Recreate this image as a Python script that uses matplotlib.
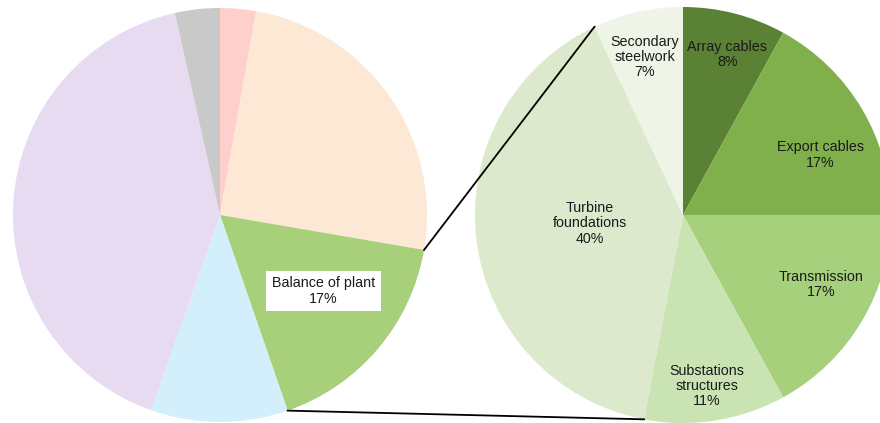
import numpy as np
import matplotlib.pyplot as plt

plt.rcParams['font.family'] = ['Liberation Sans', 'DejaVu Sans']

# overall cost split (left pie), clockwise from 12 o'clock
cost_shares = [2.8, 24.9, 17, 10.7, 41.1, 3.5]
cost_colors = ['#ffd0cb', '#fde8d6', '#a8d07a', '#d4effc', '#e7dbf2', '#c9c9c9']
bop_index = 2

# breakdown of balance of plant (right pie)
bop_labels = ['Array cables', 'Export cables', 'Transmission',
              'Substations\nstructures', 'Turbine\nfoundations', 'Secondary\nsteelwork']
bop_shares = [8, 17, 17, 11, 40, 7]
bop_colors = ['#5b8135', '#80b04c', '#a6d07b', '#c9e3b3', '#dde9cd', '#eef5e6']

# label placement: (radius fraction, angle tweak in degrees)
label_pos = [(0.80, -1), (0.72, -7), (0.745, 4), (0.83, -1), (0.45, -2), (0.78, 1)]

fig = plt.figure(figsize=(8.8, 4.23), dpi=100)
ax = fig.add_axes([0, 0, 1, 1])

c1, r1 = (220, 208), 207
c2, r2 = (683, 208), 208

w1, _ = ax.pie(cost_shares, colors=cost_colors, startangle=90, counterclock=False,
               center=c1, radius=r1, wedgeprops=dict(linewidth=0))
w2, _ = ax.pie(bop_shares, colors=bop_colors, startangle=90, counterclock=False,
               center=c2, radius=r2, wedgeprops=dict(linewidth=0))

def edge_pt(c, r, ang):
    a = np.deg2rad(ang)
    return c[0] + r * np.cos(a), c[1] + r * np.sin(a)

# labels inside right pie
for w, lab, val, (rf, dt) in zip(w2, bop_labels, bop_shares, label_pos):
    mid = (w.theta1 + w.theta2) / 2 + dt
    x, y = edge_pt(c2, r2 * rf, mid)
    ax.text(x, y, f'{lab}\n{val}%', ha='center', va='center', fontsize=10.3,
            linespacing=1.1, color='#1a1a1a')

# balance of plant label with white box
bw = w1[bop_index]
mid = (bw.theta1 + bw.theta2) / 2 + 4
x, y = edge_pt(c1, r1 * 0.62, mid)
ax.text(x, y, f'Balance of plant\n{cost_shares[bop_index]}%', ha='center', va='center',
        fontsize=10.3, linespacing=1.1, color='#1a1a1a',
        bbox=dict(facecolor='white', edgecolor='none', pad=4))

# connector lines between the pies
tw = w2[4]
p_top_l = edge_pt(c1, r1, bw.theta2)
p_bot_l = edge_pt(c1, r1, bw.theta1)
p_top_r = edge_pt(c2, r2, tw.theta1)
p_bot_r = edge_pt(c2, r2, tw.theta2)
ax.plot([p_top_l[0], p_top_r[0]], [p_top_l[1], p_top_r[1]], color='black', lw=1.3)
ax.plot([p_bot_l[0], p_bot_r[0]], [p_bot_l[1], p_bot_r[1]], color='black', lw=1.3)

ax.set_xlim(0, 880)
ax.set_ylim(0, 423)
ax.set_aspect('auto')
ax.axis('off')

fig.savefig('out.png', dpi=100)
